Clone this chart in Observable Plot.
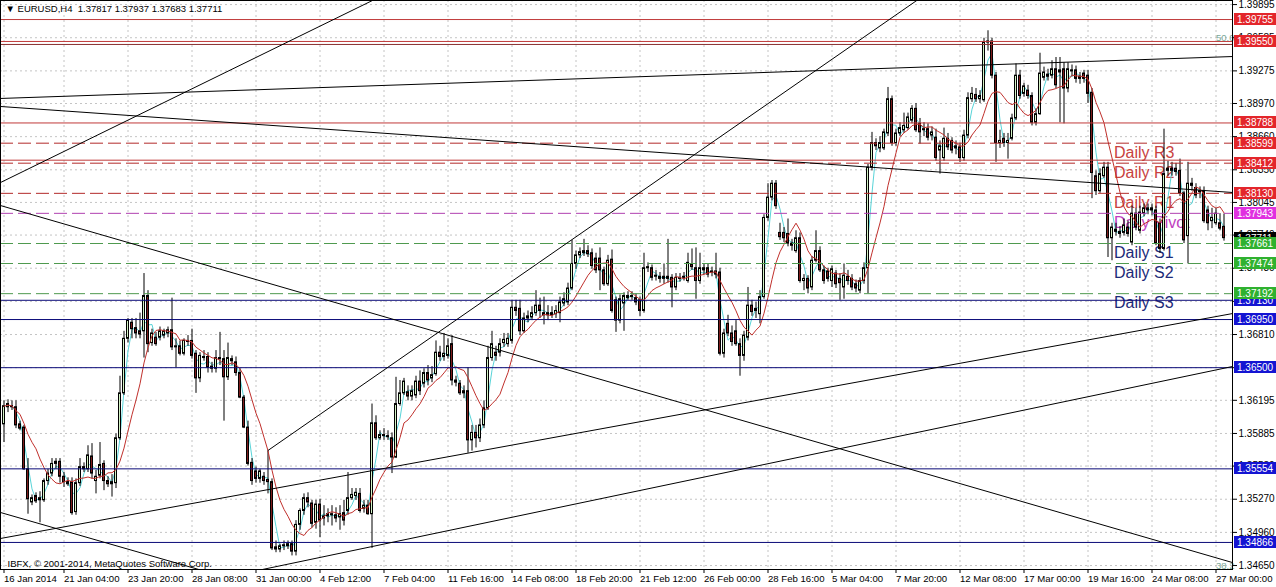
<!DOCTYPE html>
<html><head><meta charset="utf-8">
<script src="https://cdn.jsdelivr.net/npm/d3@7"></script>
<script src="https://cdn.jsdelivr.net/npm/@observablehq/plot@0.6"></script>
<style>body{margin:0;background:#fff;overflow:hidden}#chart{position:absolute;left:0;top:0}</style>
</head><body><div id="chart"></div>
<script>
// ---- candle data (EURUSD H4, bar 0 = 16 Jan 2014 16:00) ----
const opens = [
1.3597,1.3613,1.3614,1.3613,1.3597,1.3594,1.3555,1.3524,1.3530,1.3526,
1.3526,1.3544,1.3551,1.3560,1.3562,1.3548,1.3543,1.3543,1.3515,1.3542,
1.3557,1.3555,1.3567,1.3544,1.3549,1.3560,1.3544,1.3541,1.3542,1.3584,
1.3626,1.3677,1.3692,1.3687,1.3684,1.3684,1.3717,1.3673,1.3678,1.3678,
1.3680,1.3682,1.3685,1.3669,1.3670,1.3663,1.3674,1.3675,1.3663,1.3640,
1.3660,1.3660,1.3651,1.3649,1.3659,1.3658,1.3641,1.3658,1.3655,1.3645,
1.3622,1.3594,1.3561,1.3553,1.3546,1.3548,1.3545,1.3543,1.3482,1.3480,
1.3483,1.3483,1.3485,1.3478,1.3503,1.3516,1.3528,1.3523,1.3505,1.3522,
1.3509,1.3511,1.3513,1.3512,1.3510,1.3514,1.3516,1.3528,1.3530,1.3532,
1.3518,1.3521,1.3513,1.3598,1.3584,1.3587,1.3586,1.3584,1.3566,1.3616,
1.3626,1.3627,1.3623,1.3624,1.3637,1.3635,1.3645,1.3640,1.3644,1.3664,
1.3660,1.3661,1.3672,1.3638,1.3635,1.3628,1.3628,1.3582,1.3589,1.3584,
1.3596,1.3612,1.3659,1.3664,1.3664,1.3673,1.3672,1.3675,1.3706,1.3705,
1.3684,1.3696,1.3697,1.3701,1.3708,1.3701,1.3699,1.3701,1.3700,1.3701,
1.3710,1.3711,1.3724,1.3747,1.3755,1.3757,1.3759,1.3757,1.3752,1.3752,
1.3741,1.3728,1.3751,1.3713,1.3694,1.3710,1.3715,1.3717,1.3715,1.3713,
1.3703,1.3743,1.3743,1.3735,1.3735,1.3733,1.3735,1.3734,1.3725,1.3733,
1.3734,1.3731,1.3746,1.3743,1.3731,1.3743,1.3743,1.3739,1.3740,1.3739,
1.3663,1.3691,1.3682,1.3684,1.3672,1.3661,1.3678,1.3708,1.3703,1.3700,
1.3716,1.3790,1.3809,1.3822,1.3776,1.3776,1.3775,1.3766,1.3759,1.3771,
1.3731,1.3733,1.3725,1.3750,1.3759,1.3741,1.3740,1.3731,1.3738,1.3733,
1.3725,1.3735,1.3733,1.3728,1.3722,1.3731,1.3743,1.3837,1.3860,1.3855,
1.3855,1.3869,1.3901,1.3860,1.3869,1.3872,1.3874,1.3881,1.3892,1.3878,
1.3872,1.3873,1.3867,1.3865,1.3853,1.3846,1.3864,1.3862,1.3855,1.3856,
1.3846,1.3867,1.3901,1.3905,1.3901,1.3900,1.3954,1.3955,1.3923,1.3860,
1.3864,1.3860,1.3864,1.3883,1.3923,1.3906,1.3909,1.3904,1.3879,1.3887,
1.3921,1.3924,1.3923,1.3929,1.3926,1.3929,1.3911,1.3928,1.3928,1.3920,
1.3925,1.3923,1.3907,1.3829,1.3815,1.3829,1.3837,1.3771,1.3779,1.3777,
1.3776,1.3781,1.3767,1.3794,1.3778,1.3794,1.3797,1.3799,1.3797,1.3785,
1.3761,1.3834,1.3834,1.3836,1.3834,1.3813,1.3773,1.3822,1.3818,1.3814,
1.3815,1.3797,1.3787,1.3785,1.3785,1.37817];
const highs = [
1.3619,1.3620,1.3619,1.3619,1.3600,1.3596,1.3565,1.3531,1.3533,1.3534,
1.3546,1.3555,1.3565,1.3565,1.3565,1.3552,1.3547,1.3547,1.3546,1.3565,
1.3561,1.3577,1.3579,1.3554,1.3580,1.3563,1.3548,1.3550,1.3588,1.3642,
1.3684,1.3696,1.3696,1.3696,1.3701,1.3738,1.3722,1.3686,1.3683,1.3688,
1.3686,1.3688,1.3715,1.3677,1.3675,1.3677,1.3680,1.3686,1.3666,1.3664,
1.3666,1.3664,1.3655,1.3666,1.3683,1.3666,1.3673,1.3661,1.3660,1.3649,
1.3624,1.3600,1.3565,1.3557,1.3555,1.3552,1.3572,1.3546,1.3488,1.3485,
1.3488,1.3488,1.3488,1.3507,1.3518,1.3532,1.3533,1.3526,1.3526,1.3527,
1.3521,1.3518,1.3521,1.3519,1.3521,1.3526,1.3552,1.3537,1.3537,1.3537,
1.3526,1.3526,1.3616,1.3605,1.3591,1.3593,1.3591,1.3589,1.3641,1.3638,
1.3640,1.3633,1.3633,1.3642,1.3647,1.3649,1.3652,1.3651,1.3675,1.3670,
1.3682,1.3677,1.3680,1.3642,1.3638,1.3633,1.3650,1.3596,1.3596,1.3602,
1.3619,1.3670,1.3684,1.3670,1.3677,1.3682,1.3682,1.3713,1.3713,1.3713,
1.3701,1.3703,1.3707,1.3722,1.3715,1.3716,1.3708,1.3707,1.3708,1.3716,
1.3720,1.3729,1.3769,1.3759,1.3762,1.3770,1.3764,1.3761,1.3757,1.3762,
1.3744,1.3755,1.3760,1.3716,1.3718,1.3720,1.3721,1.3721,1.3719,1.3716,
1.3757,1.3748,1.3746,1.3741,1.3739,1.3747,1.3770,1.3737,1.3738,1.3738,
1.3739,1.3757,1.3761,1.3762,1.3757,1.3747,1.3747,1.3744,1.3757,1.3743,
1.3686,1.3699,1.3689,1.3694,1.3677,1.3684,1.3725,1.3713,1.3711,1.3722,
1.3793,1.3822,1.3825,1.3825,1.3785,1.3781,1.3789,1.3770,1.3778,1.3776,
1.3737,1.3736,1.3754,1.3778,1.3763,1.3745,1.3743,1.3745,1.3741,1.3738,
1.3747,1.3741,1.3737,1.3732,1.3734,1.3748,1.3840,1.3870,1.3864,1.3866,
1.3873,1.3912,1.3904,1.3873,1.3879,1.3888,1.3888,1.3895,1.3897,1.3883,
1.3879,1.3878,1.3875,1.3873,1.3862,1.3874,1.3869,1.3865,1.3862,1.3860,
1.3872,1.3907,1.3912,1.3911,1.3909,1.3958,1.3965,1.3958,1.3926,1.3872,
1.3869,1.3869,1.3887,1.3934,1.3928,1.3916,1.3914,1.3907,1.3892,1.3944,
1.3931,1.3929,1.3937,1.3940,1.3940,1.3935,1.3935,1.3933,1.3932,1.3926,
1.3928,1.3928,1.3911,1.3834,1.3836,1.3842,1.3842,1.3785,1.3785,1.3782,
1.3789,1.3787,1.3801,1.3799,1.3801,1.3803,1.3803,1.3803,1.3801,1.3789,
1.3873,1.3843,1.3842,1.3841,1.3845,1.3815,1.3842,1.3827,1.3822,1.3819,
1.3819,1.3801,1.3799,1.3799,1.3794,1.37937];
const lows = [
1.3580,1.3608,1.3610,1.3593,1.3591,1.3554,1.3513,1.3521,1.3523,1.3505,
1.3524,1.3540,1.3548,1.3555,1.3542,1.3538,1.3539,1.3512,1.3512,1.3539,
1.3552,1.3552,1.3546,1.3532,1.3546,1.3535,1.3538,1.3529,1.3537,1.3582,
1.3624,1.3673,1.3677,1.3677,1.3677,1.3659,1.3664,1.3670,1.3670,1.3675,
1.3677,1.3678,1.3666,1.3650,1.3661,1.3661,1.3670,1.3658,1.3626,1.3636,
1.3656,1.3645,1.3645,1.3645,1.3652,1.3600,1.3638,1.3652,1.3642,1.3621,
1.3593,1.3558,1.3540,1.3542,1.3542,1.3540,1.3532,1.3479,1.3477,1.3477,
1.3479,1.3480,1.3474,1.3474,1.3498,1.3512,1.3519,1.3500,1.3499,1.3491,
1.3502,1.3505,1.3502,1.3505,1.3498,1.3502,1.3512,1.3526,1.3526,1.3514,
1.3514,1.3512,1.3481,1.3582,1.3582,1.3582,1.3582,1.3551,1.3565,1.3614,
1.3624,1.3619,1.3619,1.3621,1.3624,1.3631,1.3633,1.3636,1.3642,1.3656,
1.3656,1.3658,1.3633,1.3632,1.3624,1.3621,1.3570,1.3572,1.3575,1.3580,
1.3593,1.3610,1.3656,1.3656,1.3660,1.3669,1.3669,1.3672,1.3698,1.3680,
1.3682,1.3692,1.3694,1.3698,1.3696,1.3690,1.3694,1.3696,1.3696,1.3692,
1.3707,1.3708,1.3722,1.3742,1.3752,1.3754,1.3753,1.3742,1.3738,1.3722,
1.3726,1.3726,1.3701,1.3683,1.3691,1.3684,1.3713,1.3713,1.3708,1.3698,
1.3701,1.3739,1.3731,1.3731,1.3729,1.3728,1.3729,1.3706,1.3722,1.3730,
1.3731,1.3729,1.3741,1.3714,1.3728,1.3737,1.3734,1.3735,1.3733,1.3661,
1.3659,1.3679,1.3670,1.3670,1.3642,1.3656,1.3675,1.3698,1.3696,1.3691,
1.3714,1.3787,1.3806,1.3798,1.3769,1.3767,1.3763,1.3759,1.3757,1.3729,
1.3722,1.3719,1.3722,1.3748,1.3739,1.3728,1.3730,1.3725,1.3724,1.3713,
1.3714,1.3727,1.3722,1.3720,1.3719,1.3728,1.3719,1.3834,1.3853,1.3851,
1.3853,1.3866,1.3857,1.3857,1.3866,1.3869,1.3872,1.3878,1.3870,1.3859,
1.3866,1.3862,1.3862,1.3843,1.3831,1.3843,1.3853,1.3850,1.3849,1.3842,
1.3843,1.3864,1.3898,1.3898,1.3897,1.3898,1.3946,1.3920,1.3842,1.3855,
1.3856,1.3845,1.3862,1.3881,1.3901,1.3903,1.3901,1.3876,1.3876,1.3886,
1.3918,1.3918,1.3920,1.3911,1.3879,1.3878,1.3907,1.3922,1.3916,1.3915,
1.3916,1.3897,1.3808,1.3811,1.3813,1.3827,1.3753,1.3750,1.3773,1.3771,
1.3773,1.3772,1.3764,1.3778,1.3775,1.3791,1.3793,1.3792,1.3764,1.3757,
1.3759,1.3829,1.3829,1.3829,1.3810,1.3766,1.3747,1.3815,1.3808,1.3808,
1.3785,1.3778,1.3780,1.3783,1.3778,1.37683];
const closes = [
1.3614,1.3616,1.3613,1.3596,1.3593,1.3555,1.3527,1.3528,1.3525,1.3528,
1.3544,1.3551,1.3560,1.3562,1.3548,1.3543,1.3541,1.3514,1.3542,1.3557,
1.3555,1.3568,1.3551,1.3548,1.3559,1.3544,1.3541,1.3543,1.3584,1.3626,
1.3677,1.3694,1.3686,1.3682,1.3681,1.3717,1.3672,1.3682,1.3672,1.3684,
1.3684,1.3685,1.3669,1.3670,1.3663,1.3675,1.3675,1.3661,1.3640,1.3661,
1.3659,1.3650,1.3649,1.3659,1.3658,1.3641,1.3659,1.3656,1.3645,1.3622,
1.3594,1.3560,1.3544,1.3546,1.3553,1.3544,1.3543,1.3481,1.3480,1.3483,
1.3484,1.3485,1.3478,1.3503,1.3516,1.3528,1.3524,1.3504,1.3522,1.3507,
1.3511,1.3513,1.3512,1.3509,1.3513,1.3507,1.3528,1.3531,1.3533,1.3516,
1.3521,1.3513,1.3598,1.3584,1.3587,1.3586,1.3585,1.3566,1.3616,1.3626,
1.3637,1.3623,1.3628,1.3637,1.3628,1.3645,1.3638,1.3643,1.3664,1.3660,
1.3663,1.3670,1.3638,1.3636,1.3626,1.3626,1.3582,1.3589,1.3584,1.3596,
1.3612,1.3659,1.3672,1.3661,1.3672,1.3676,1.3677,1.3706,1.3703,1.3684,
1.3696,1.3698,1.3701,1.3708,1.3703,1.3699,1.3701,1.3699,1.3703,1.3711,
1.3714,1.3724,1.3747,1.3755,1.3758,1.3759,1.3756,1.3745,1.3741,1.3741,
1.3728,1.3750,1.3703,1.3694,1.3714,1.3717,1.3717,1.3716,1.3711,1.3703,
1.3743,1.3744,1.3734,1.3736,1.3733,1.3735,1.3733,1.3725,1.3734,1.3734,
1.3735,1.3748,1.3744,1.3731,1.3743,1.3741,1.3737,1.3740,1.3737,1.3663,
1.3682,1.3682,1.3674,1.3672,1.3661,1.3680,1.3708,1.3702,1.3705,1.3716,
1.3790,1.3809,1.3822,1.3801,1.3772,1.3771,1.3766,1.3764,1.3771,1.3731,
1.3733,1.3724,1.3750,1.3759,1.3741,1.3731,1.3733,1.3742,1.3728,1.3729,
1.3736,1.3731,1.3725,1.3724,1.3731,1.3743,1.3837,1.3860,1.3857,1.3860,
1.3870,1.3901,1.3860,1.3869,1.3874,1.3876,1.3884,1.3892,1.3872,1.3870,
1.3873,1.3865,1.3870,1.3846,1.3857,1.3864,1.3856,1.3853,1.3857,1.3846,
1.3867,1.3902,1.3906,1.3901,1.3904,1.3954,1.3955,1.3923,1.3860,1.3862,
1.3860,1.3862,1.3883,1.3923,1.3904,1.3913,1.3904,1.3879,1.3887,1.3925,
1.3926,1.3922,1.3929,1.3914,1.3928,1.3911,1.3929,1.3927,1.3920,1.3922,
1.3920,1.3906,1.3832,1.3815,1.3831,1.3837,1.3771,1.3781,1.3777,1.3775,
1.3783,1.3775,1.3794,1.3781,1.3795,1.3799,1.3799,1.3797,1.3766,1.3761,
1.3831,1.3836,1.3836,1.3833,1.3813,1.3769,1.3822,1.3820,1.3811,1.3815,
1.3787,1.3785,1.3790,1.3794,1.3780,1.37711];

// ---- axis ticks ----
const dateBars = [0,15,31,47,63,79,95,111,127,143,159,175,191,207,223,239,255,271,287,303];
const dateLabels = ["16 Jan 2014","21 Jan 04:00","23 Jan 20:00","28 Jan 08:00","31 Jan 00:00","4 Feb 12:00","7 Feb 04:00","11 Feb 16:00","14 Feb 08:00","18 Feb 20:00","21 Feb 12:00","26 Feb 00:00","28 Feb 16:00","5 Mar 04:00","7 Mar 20:00","12 Mar 08:00","17 Mar 00:00","19 Mar 16:00","24 Mar 08:00","27 Mar 00:00"];
const priceTicks = [1.39895,1.39585,1.39275,1.38970,1.38660,1.38350,1.38045,1.37740,1.37430,1.37120,1.36810,1.36500,1.36195,1.35885,1.35580,1.35270,1.34960,1.34650];

// ---- horizontal levels ----
const resistanceLines = [1.39755, 1.39550, 1.38788, 1.38440];
const fibLines = [1.39522];
const supportLines = [1.37130, 1.36950, 1.36500, 1.35554, 1.34866];
const pivotNames = ["Daily R3","Daily R2","Daily R1","Daily Pivot","Daily S1","Daily S2","Daily S3"];
const pivotLevels = [1.38599, 1.38412, 1.38130, 1.37943, 1.37661, 1.37474, 1.37192];
const pivotKinds = ["r","r","r","p","s","s","s"];
const tagPrices = [1.36950,1.36500,1.35554,1.34866,1.37130,1.37711,1.37192,1.37474,1.37661,1.37943,1.38130,1.38412,1.38599,1.38788,1.39550,1.39755];
const tagKinds  = ["b","b","b","b","b","k","g","g","g","m","r","r","r","r","r","r"];

// ---- trend lines: anchors (bar index, price) ----
const trendLines = [
  {b1: -0.875, p1: 1.38231, b2: 92.1,    p2: 1.39933, ray: false},
  {b1: 66,     p1: 1.35726, b2: 227.1,   p2: 1.39905, ray: true},
  {b1: -0.875, p1: 1.39017, b2: 307.125, p2: 1.39409, ray: false},
  {b1: -0.875, p1: 1.38942, b2: 307.125, p2: 1.38138, ray: false},
  {b1: -0.875, p1: 1.38016, b2: 307.125, p2: 1.34678, ray: false},
  {b1: -0.875, p1: 1.35146, b2: 46.1,    p2: 1.34641, ray: false},
  {b1: -0.875, p1: 1.34903, b2: 307.125, p2: 1.37006, ray: false},
  {b1: 64.6,   p1: 1.34613, b2: 307.125, p2: 1.36511, ray: false}
];
const fibTexts = [{t: "50.0", b: 303, p: 1.39550}, {t: "38.2", b: 303, p: 1.34621}];

const title = "\u25BC EURUSD,H4  1.37817 1.37937 1.37683 1.37711";
const copyright = "IBFX, \u00A9 2001-2014, MetaQuotes Software Corp.";

// ---- build ----
const candles = opens.map((o, i) => ({i, o, h: highs[i], l: lows[i], c: closes[i]}));
const X0 = -0.875, X1 = 307.125;
function seg(t) {
  const m = (t.p2 - t.p1) / (t.b2 - t.b1);
  const a = t.ray ? t.b1 : X0;
  return [{b: a, p: t.p1 + m * (a - t.b1)}, {b: X1, p: t.p1 + m * (X1 - t.b1)}];
}
const tagColor = {b: "#1414d2", k: "#000000", g: "#2fb12f", m: "#e02fe0", r: "#e3262b"};
const pivotColor = {r: "#c8423f", p: "#c040c0", s: "#1d2a78"};
const pivotLine = {r: "#b22a2a", p: "#b040b0", s: "#4f9a4f"};
const pivots = pivotLevels.map((p, k) => ({p, name: pivotNames[k], kind: pivotKinds[k]}));

function priceTagMark(index, scales, values, dimensions) {
  const g = d3.create("svg:g").attr("text-anchor", "start");
  const x0 = dimensions.width - dimensions.marginRight;
  tagPrices.forEach((p, k) => {
    const y = Math.round(scales.y(p));
    g.append("rect").attr("x", x0 + 2).attr("y", y - 6).attr("width", 44).attr("height", 12)
      .attr("fill", tagColor[tagKinds[k]]);
    g.append("text").attr("x", x0 + 5).attr("y", y).attr("dy", "0.36em").attr("text-anchor", "start")
      .attr("fill", "#fff").attr("font-size", 10).text(p.toFixed(5));
  });
  return g.node();
}

const marks = [
  Plot.gridX(dateBars, {stroke: "#c4c4c4", strokeOpacity: 1, strokeDasharray: "2,3"}),
  Plot.gridY(priceTicks, {stroke: "#c4c4c4", strokeOpacity: 1, strokeDasharray: "2,3"}),
  Plot.text(pivots, {x: () => 277.5, y: "p", text: "name", fill: d => pivotColor[d.kind], fontSize: 16,
    fontFamily: "'Liberation Sans', Arial, sans-serif", textAnchor: "start", lineAnchor: "top", dy: 3}),
  Plot.lineY(candles, Plot.windowY({k: 3, anchor: "end"}, {x: "i", y: "c", stroke: "#58d4d8", strokeWidth: 1})),
  Plot.ruleX(candles, {x: "i", y1: "l", y2: "h", stroke: "#000", strokeWidth: 1}),
  Plot.rect(candles, {x1: d => d.i - 0.25, x2: d => d.i + 0.25, y1: "o", y2: "c",
    fill: d => d.c >= d.o ? "#d4f3c6" : "#7d1c1c", stroke: "#000", strokeWidth: 1}),
  Plot.lineY(candles, Plot.windowY({k: 9, anchor: "end"}, {x: "i", y: "c", stroke: "#c0302c", strokeWidth: 1})),
  Plot.ruleY(resistanceLines, {stroke: "#c03a3a", strokeWidth: 1}),
  Plot.ruleY(fibLines, {stroke: "#8a3030", strokeWidth: 1}),
  Plot.ruleY(supportLines, {stroke: "#0a0a78", strokeWidth: 1}),
  Plot.ruleY(pivots, {y: "p", stroke: d => pivotLine[d.kind], strokeWidth: 1, strokeDasharray: "13,5"}),
  ...trendLines.map(t => Plot.line(seg(t), {x: "b", y: "p", stroke: "#000", strokeWidth: 1, clip: true})),
  Plot.text(fibTexts, {x: "b", y: "p", text: "t", fill: "#7aa898", fontSize: 9.5, textAnchor: "start", lineAnchor: "bottom"}),
  Plot.frame({stroke: "#000"}),
  Plot.axisY(priceTicks, {anchor: "right", tickFormat: d => d.toFixed(5), tickSize: 4, tickPadding: 2, fontSize: 10, stroke: "#000", fill: "#000"}),
  Plot.axisX(dateBars, {anchor: "bottom", tickFormat: d => dateLabels[dateBars.indexOf(d)], tickSize: 4, tickPadding: 2,
    textAnchor: "start", dx: 0, fontSize: 9.6, stroke: "#000", fill: "#000"}),
  priceTagMark,
  Plot.text([title], {frameAnchor: "top-left", dx: 5, dy: 5, textAnchor: "start", lineAnchor: "top", fontSize: 9.5, fill: "#000"}),
  Plot.text([copyright], {frameAnchor: "bottom-left", dx: 7, dy: -3, textAnchor: "start", lineAnchor: "bottom", fontSize: 9.5, fill: "#000"})
];

const chart = Plot.plot({
  width: 1276, height: 587,
  marginLeft: 0, marginRight: 44, marginTop: 0, marginBottom: 18,
  x: {domain: [X0, X1]},
  y: {domain: [1.34613, 1.39933]},
  style: {fontFamily: "'Liberation Sans', Arial, sans-serif", fontSize: "10px", background: "#fff", color: "#000", overflow: "visible"},
  marks
});
document.getElementById("chart").appendChild(chart);
</script></body></html>
